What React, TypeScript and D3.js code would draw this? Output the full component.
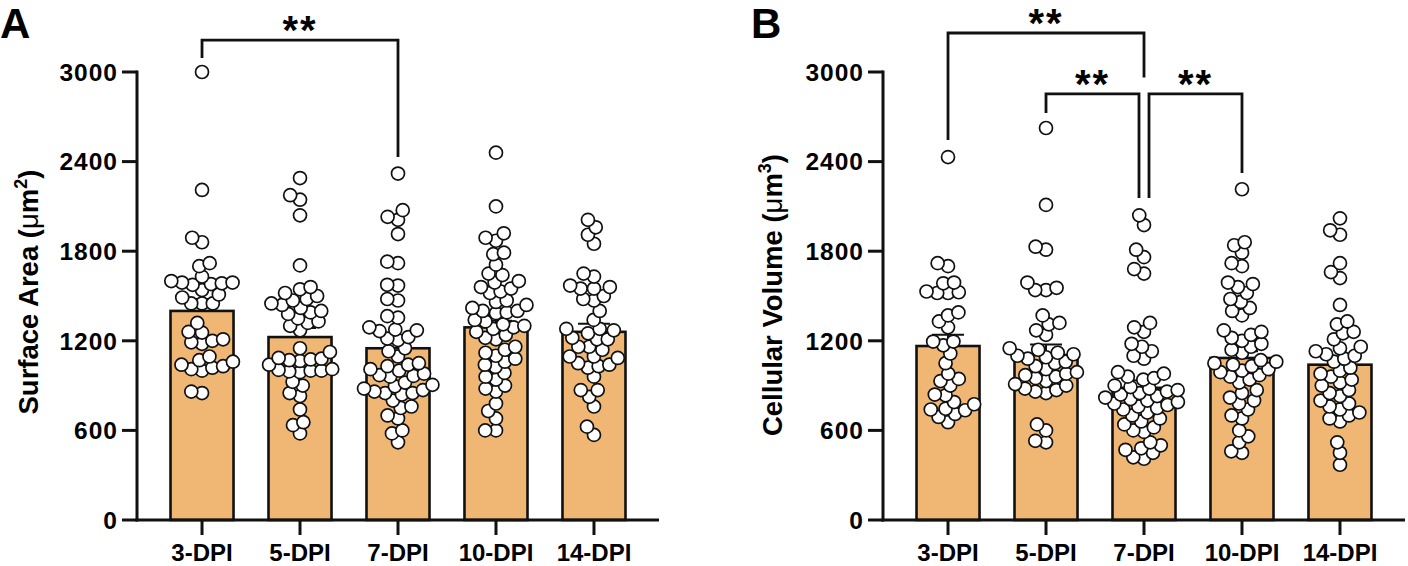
import React from "react";
import * as d3 from "d3";

const categories = ["3-DPI", "5-DPI", "7-DPI", "10-DPI", "14-DPI"];
const yTicks = [0, 600, 1200, 1800, 2400, 3000];

// Panel A: Surface Area (µm²)
const areaMeans = [1400, 1225, 1150, 1290, 1260];
const areaSems = [80, 60, 60, 45, 55];
const area3 = [3000, 2210, 1890, 1860, 1720, 1700, 1630, 1600, 1590, 1580, 1590, 1575, 1585, 1540, 1510, 1490, 1450, 1450, 1450, 1320, 1260, 1255, 1210, 1200, 1190, 1180, 1095, 1070, 1060, 1040, 1030, 1020, 1010, 1000, 860, 850];
const area5 = [2290, 2175, 2145, 2040, 1705, 1560, 1545, 1520, 1500, 1480, 1470, 1450, 1440, 1420, 1400, 1390, 1380, 1350, 1330, 1320, 1300, 1270, 1150, 1125, 1085, 1080, 1075, 1070, 1065, 1040, 1010, 1005, 1000, 1000, 995, 990, 925, 900, 850, 830, 740, 655, 635, 580];
const area7 = [2320, 2075, 2030, 2010, 1915, 1730, 1720, 1575, 1570, 1480, 1470, 1365, 1355, 1290, 1275, 1270, 1265, 1225, 1215, 1205, 1150, 1130, 1095, 1050, 1040, 1030, 1010, 1000, 980, 970, 965, 960, 920, 905, 895, 880, 870, 860, 850, 850, 840, 800, 760, 750, 700, 680, 600, 580, 520];
const area10 = [2460, 2100, 1920, 1890, 1870, 1790, 1780, 1710, 1650, 1640, 1600, 1590, 1560, 1550, 1530, 1520, 1470, 1460, 1440, 1420, 1400, 1400, 1390, 1385, 1340, 1330, 1310, 1300, 1290, 1280, 1260, 1240, 1220, 1210, 1160, 1140, 1120, 1100, 1080, 1060, 1040, 1025, 985, 960, 940, 900, 880, 860, 780, 730, 680, 600, 600];
const area14 = [2010, 1960, 1910, 1850, 1650, 1630, 1570, 1560, 1550, 1550, 1500, 1480, 1470, 1400, 1340, 1280, 1280, 1270, 1250, 1220, 1210, 1210, 1160, 1160, 1140, 1095, 1095, 1085, 1050, 1040, 1030, 1020, 960, 870, 870, 825, 760, 625, 570];

// Panel B: Cellular Volume (µm³)
const volMeans = [1165, 1105, 885, 1085, 1040];
const volSems = [75, 70, 50, 45, 50];
const vol3 = [2430, 1720, 1700, 1590, 1585, 1530, 1525, 1520, 1520, 1390, 1370, 1330, 1290, 1195, 1195, 1170, 1115, 1050, 980, 945, 930, 900, 840, 835, 790, 775, 745, 740, 735, 710, 690, 655];
const vol5 = [2625, 2110, 1830, 1810, 1590, 1555, 1540, 1540, 1370, 1320, 1310, 1270, 1240, 1150, 1140, 1120, 1110, 1100, 1090, 1080, 1060, 1050, 1030, 1010, 990, 980, 970, 960, 950, 930, 910, 900, 880, 870, 860, 850, 640, 600, 530, 520];
const vol7 = [2040, 1975, 1810, 1760, 1680, 1650, 1320, 1290, 1260, 1180, 1160, 1130, 1100, 1080, 990, 980, 960, 950, 940, 900, 890, 880, 870, 860, 850, 840, 830, 820, 810, 800, 790, 780, 770, 760, 750, 740, 720, 700, 680, 660, 640, 620, 600, 590, 520, 500, 480, 470, 450, 420, 410];
const vol10 = [2215, 1860, 1840, 1790, 1720, 1700, 1590, 1580, 1560, 1520, 1480, 1460, 1420, 1400, 1370, 1270, 1260, 1240, 1220, 1200, 1180, 1160, 1140, 1120, 1070, 1060, 1050, 1040, 1030, 1010, 1000, 990, 970, 960, 940, 920, 870, 850, 820, 800, 780, 740, 700, 680, 600, 560, 520, 460, 450];
const vol14 = [2020, 1940, 1910, 1720, 1660, 1620, 1440, 1330, 1310, 1260, 1250, 1210, 1160, 1150, 1130, 1110, 1100, 1080, 1060, 1020, 1000, 980, 960, 940, 920, 900, 870, 850, 830, 800, 780, 760, 740, 720, 700, 680, 660, 520, 450, 370];

// significance annotations (values in data units)
const areaComparisons = [
  { from: "3-DPI", to: "7-DPI", top: 3214, leftEnd: 3094, rightEnd: 2431, dxL: 0, dxR: 0, label: "**" },
];
const volComparisons = [
  { from: "3-DPI", to: "7-DPI", top: 3261, leftEnd: 2545, rightEnd: 2964, dxL: 0, dxR: 0, label: "**" },
  { from: "5-DPI", to: "7-DPI", top: 2853, leftEnd: 2726, rightEnd: 2156, dxL: 0, dxR: -5, label: "**" },
  { from: "7-DPI", to: "10-DPI", top: 2853, leftEnd: 2156, rightEnd: 2324, dxL: 5, dxR: 0, label: "**" },
];

const FONT = "'Liberation Sans', Arial, Helvetica, sans-serif";
const BAR_FILL = "#F0B774";
const R = 6.5;
const COLLIDE = 10.8;

function swarm(values: number[], y: (v: number) => number) {
  const pts = values.map((v) => ({ v, y: y(v), x: 0 })).sort((a, b) => a.v - b.v);
  const placed: { x: number; y: number; v: number }[] = [];
  for (const p of pts) {
    const intervals: [number, number][] = [];
    for (const q of placed) {
      const dy = Math.abs(q.y - p.y);
      if (dy < COLLIDE) {
        const dx = Math.sqrt(COLLIDE * COLLIDE - dy * dy);
        intervals.push([q.x - dx, q.x + dx]);
      }
    }
    const cands = [0];
    intervals.forEach(([a, b]) => cands.push(a, b));
    cands.sort((a, b) => Math.abs(a) - Math.abs(b));
    let chosen = 0;
    for (const c of cands) {
      if (!intervals.some(([a, b]) => c > a + 1e-6 && c < b - 1e-6)) {
        chosen = c;
        break;
      }
    }
    p.x = chosen;
    placed.push(p);
  }
  return placed;
}

type PanelProps = {
  x0: number;
  x1: number;
  letter: string;
  letterX: number;
  titleX: number;
  titleCenterY: number;
  titleMain: string;
  titleSup: string;
  means: number[];
  sems: number[];
  groups: number[][];
  comparisons: typeof volComparisons;
};

function Panel(props: PanelProps) {
  const { x0, x1, means, sems, groups, comparisons } = props;
  const y = d3.scaleLinear().domain([0, 3000]).range([520, 72]);
  const x = d3.scaleBand().domain(categories).range([x0, x1]).paddingInner(0.357).paddingOuter(0.342);
  const bw = x.bandwidth();
  const cx = (c: string) => (x(c) as number) + bw / 2;
  const axisW = 3;

  return (
    <g>
      <text x={props.letterX} y={38} fontFamily={FONT} fontWeight="bold" fontSize={42}>
        {props.letter}
      </text>
      {/* bars */}
      {categories.map((c, i) => (
        <rect
          key={"bar" + c}
          x={x(c)}
          y={y(means[i])}
          width={bw}
          height={y(0) - y(means[i])}
          fill={BAR_FILL}
          stroke="#111"
          strokeWidth={2.6}
        />
      ))}
      {/* error bars */}
      {categories.map((c, i) => (
        <g key={"err" + c} stroke="#111" strokeWidth={2}>
          <line x1={cx(c)} x2={cx(c)} y1={y(means[i])} y2={y(means[i] + sems[i])} />
          <line x1={cx(c) - 16} x2={cx(c) + 16} y1={y(means[i] + sems[i])} y2={y(means[i] + sems[i])} />
        </g>
      ))}
      {/* points */}
      {categories.map((c, i) =>
        swarm(groups[i], y).map((p, j) => (
          <circle
            key={"pt" + c + j}
            cx={cx(c) + p.x}
            cy={p.y}
            r={R}
            fill="#fff"
            stroke="#111"
            strokeWidth={1.7}
          />
        ))
      )}
      {/* y axis */}
      <line x1={x0} x2={x0} y1={y(3000) - axisW / 2} y2={y(0) + axisW / 2} stroke="#111" strokeWidth={axisW} />
      {yTicks.map((t) => (
        <g key={"yt" + t}>
          <line x1={x0 - 15} x2={x0} y1={y(t)} y2={y(t)} stroke="#111" strokeWidth={axisW} />
          <text
            x={x0 - 19}
            y={y(t)}
            dy="0.36em"
            textAnchor="end"
            fontFamily={FONT}
            fontWeight="bold"
            fontSize={24.5}
            letterSpacing={1}
          >
            {t}
          </text>
        </g>
      ))}
      {/* x axis */}
      <line x1={x0 - axisW / 2} x2={x1} y1={y(0)} y2={y(0)} stroke="#111" strokeWidth={axisW} />
      {categories.map((c) => (
        <g key={"xt" + c}>
          <line x1={cx(c)} x2={cx(c)} y1={y(0)} y2={y(0) + 15} stroke="#111" strokeWidth={axisW} />
          <text x={cx(c)} y={561} textAnchor="middle" fontFamily={FONT} fontWeight="bold" fontSize={24}>
            {c}
          </text>
        </g>
      ))}
      {/* y title */}
      <text
        transform={`translate(${props.titleX},${props.titleCenterY}) rotate(-90)`}
        textAnchor="middle"
        fontFamily={FONT}
        fontWeight="bold"
        fontSize={27.5}
      >
        {props.titleMain}
        <tspan fontWeight="normal">μ</tspan>
        m
        <tspan dy={-11} fontSize={18}>
          {props.titleSup}
        </tspan>
        <tspan dy={11}>)</tspan>
      </text>
      {/* significance brackets */}
      {comparisons.map((cmp, k) => {
        const xa = cx(cmp.from) + cmp.dxL;
        const xb = cx(cmp.to) + cmp.dxR;
        return (
          <g key={"cmp" + k}>
            <path
              d={`M${xa},${y(cmp.leftEnd)}V${y(cmp.top)}H${xb}V${y(cmp.rightEnd)}`}
              fill="none"
              stroke="#111"
              strokeWidth={2.8}
            />
            <text
              x={(xa + xb) / 2}
              y={y(cmp.top) + 4}
              textAnchor="middle"
              fontFamily={FONT}
              fontWeight="bold"
              fontSize={40}
              letterSpacing={2}
            >
              {cmp.label}
            </text>
          </g>
        );
      })}
    </g>
  );
}

export default function App() {
  return (
    <svg
      width={1408}
      height={566}
      viewBox="0 0 1408 566"
      style={{ position: "absolute", left: 0, top: 0, background: "#fff" }}
    >
      <rect width={1408} height={566} fill="#fff" />
      <Panel
        x0={137}
        x1={659}
        letter="A"
        letterX={0}
        titleX={38}
        titleCenterY={292}
        titleMain="Surface Area ("
        titleSup="2"
        means={areaMeans}
        sems={areaSems}
        groups={[area3, area5, area7, area10, area14]}
        comparisons={areaComparisons}
      />
      <Panel
        x0={883}
        x1={1405}
        letter="B"
        letterX={751}
        titleX={782}
        titleCenterY={295}
        titleMain="Cellular Volume ("
        titleSup="3"
        means={volMeans}
        sems={volSems}
        groups={[vol3, vol5, vol7, vol10, vol14]}
        comparisons={volComparisons}
      />
    </svg>
  );
}
